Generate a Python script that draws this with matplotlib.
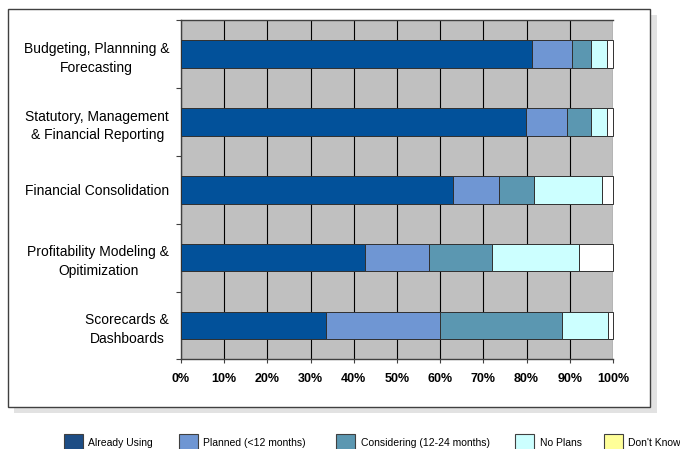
import matplotlib
matplotlib.use("Agg")
import matplotlib.pyplot as plt
from matplotlib.patches import Rectangle
import numpy as np

plt.rcParams['font.family'] = ['Liberation Sans', 'DejaVu Sans']

categories = ["Budgeting, Plannning &\nForecasting",
              "Statutory, Management\n& Financial Reporting",
              "Financial Consolidation",
              "Profitability Modeling &\nOpitimization",
              "Scorecards &\nDashboards"]
series = ["Already Using", "Planned (<12 months)", "Considering (12-24 months)",
          "No Plans", "Don't Know"]
already = [81.2, 79.9, 62.9, 42.7, 33.5]
planned = [9.4, 9.5, 10.6, 14.8, 26.5]
considering = [4.2, 5.4, 8.1, 14.6, 28.1]
no_plans = [3.7, 3.7, 15.8, 20.1, 10.7]
dont_know = [1.5, 1.5, 2.6, 7.8, 1.2]

bar_colors = ["#02519A", "#6F96D3", "#5B97B1", "#CCFFFF", "#FFFFFF"]
legend_colors = ["#1D4D85", "#6F96D3", "#5B97B1", "#CCFFFF", "#FFFF99"]

W, H = 680, 449
fig = plt.figure(figsize=(6.8, 4.49), dpi=100)

def px(x0, y0, x1, y1):
    # pixel box (top-left origin) -> figure fraction rect
    return (x0 / W, 1 - y1 / H), (x1 - x0) / W, (y1 - y0) / H

# outer frame with shadow
xy, w, h = px(14, 15, 657, 413)
fig.patches.append(Rectangle(xy, w, h, transform=fig.transFigure,
                             facecolor="#E2E2E2", edgecolor="none", zorder=-2))
xy, w, h = px(8, 9, 650, 407)
fig.patches.append(Rectangle(xy, w, h, transform=fig.transFigure,
                             facecolor="white", edgecolor="#404040", lw=1.0, zorder=-1))

ax = fig.add_axes([181 / W, 1 - 359.3 / H, 432 / W, (359.3 - 20.3) / H])
ax.set_facecolor("#C0C0C0")

y = np.arange(len(categories))
left = np.zeros(len(categories))
for vals, col in zip([already, planned, considering, no_plans, dont_know], bar_colors):
    ax.barh(y, vals, left=left, height=0.41, color=col,
            edgecolor="#303030", linewidth=0.7, zorder=3, clip_on=False)
    left += np.array(vals)

ax.set_xlim(0, 100)
ax.set_ylim(len(categories) - 0.5, -0.5)
ax.set_xticks(np.arange(0, 101, 10))
ax.set_xticklabels([f"{v}%" for v in range(0, 101, 10)], fontsize=9, fontweight="bold")
ax.set_yticks(np.arange(-0.5, len(categories), 1.0))
ax.set_yticklabels([])
ax.set_yticks(y, minor=True)
ax.set_yticklabels(categories, minor=True, fontsize=10, multialignment="center",
                   linespacing=1.45)
ax.tick_params(axis="y", which="minor", length=0, pad=8.5)
ax.tick_params(axis="y", which="major", length=3.5, color="#404040")
ax.tick_params(axis="x", length=3, color="#404040", pad=7)
ax.xaxis.grid(True, color="black", linewidth=0.8)
ax.set_axisbelow(True)
for s in ax.spines.values():
    s.set_color("#404040")
    s.set_linewidth(1.0)
ax.spines["right"].set_visible(False)

# legend below the frame
patch_x = [64, 179, 336, 515, 604]
text_x = [88, 203, 361, 540, 628]
for name, col, px0, tx in zip(series, legend_colors, patch_x, text_x):
    xy, w, h = px(px0, 434, px0 + 19, 455)
    fig.patches.append(Rectangle(xy, w, h, transform=fig.transFigure,
                                 facecolor=col, edgecolor="#404040", lw=0.8))
    fig.text(tx / W, 1 - 442.5 / H, name, fontsize=7.5, va="center", ha="left")

fig.savefig("out.png", dpi=100)
